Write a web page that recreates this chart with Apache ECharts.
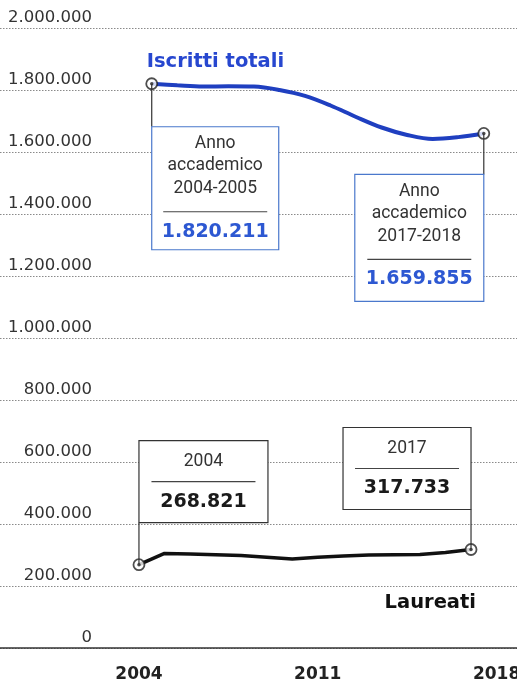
<!DOCTYPE html>
<html><head><meta charset="utf-8">
<script src="https://cdn.jsdelivr.net/npm/echarts@6/dist/echarts.min.js"></script>
<style>html,body{margin:0;padding:0;background:#fff}#c{width:517px;height:683px}</style>
</head><body><div id="c"></div>
<script>
// ---- data ----
const laureatiYears = [2004,2005,2006,2007,2008,2009,2010,2011,2012,2013,2014,2015,2016,2017];
const laureati = [268821,305000,303000,301000,298000,293000,287000,293000,297000,300000,301000,302000,308000,317733];
const iscrittiYears = ['2004-2005','2005-2006','2006-2007','2007-2008','2008-2009','2009-2010','2010-2011','2011-2012','2012-2013','2013-2014','2014-2015','2015-2016','2016-2017','2017-2018'];
const iscritti = [1820211,1815000,1811000,1812000,1811000,1800000,1781000,1750000,1713000,1679000,1655000,1642000,1648000,1659855];
const xTickYears = [2004, 2011, 2018];
const seriesNames = ['Iscritti totali', 'Laureati'];

// academic year plotted at its mid point (start year + 0.5)
const iscrittiX = iscrittiYears.map(s => parseInt(s.split('-')[0], 10) + 0.5);
const iscrittiData = iscritti.map((v, i) => [iscrittiX[i], v]);
const laureatiData = laureati.map((v, i) => [laureatiYears[i], v]);
const fmt = v => String(Math.round(v)).replace(/\B(?=(\d{3})+(?!\d))/g, '.');

const BLUE = '#1f3fc0';
const DARK = '#222';
const chart = echarts.init(document.getElementById('c'), null, {renderer: 'canvas'});

const ends = a => [a[0], a[a.length - 1]];

chart.setOption({
  animation: false,
  backgroundColor: '#fff',
  grid: {left: 0, right: 0, top: 28, bottom: 35, containLabel: false, outerBoundsMode: 'none'},
  xAxis: {
    type: 'value', min: 1998.56, max: 2018.8,
    axisLine: {show: true, lineStyle: {color: '#333', width: 1.5}},
    axisTick: {show: false},
    splitLine: {show: false},
    axisLabel: {
      customValues: xTickYears,
      margin: 18,
      formatter: v => String(Math.round(v)),
      fontFamily: 'DejaVu Sans', fontWeight: 'bold', fontSize: 17, color: '#222'
    }
  },
  yAxis: {
    type: 'value', min: 0, max: 2000000, interval: 200000,
    axisLine: {show: false}, axisTick: {show: false},
    splitLine: {show: true, lineStyle: {color: '#8a8a8a', type: [1.5, 1.5], width: 1}},
    axisLabel: {
      inside: true, margin: 92, align: 'right', verticalAlign: 'bottom',
      padding: [0, 0, 2, 0],
      formatter: fmt,
      fontFamily: 'DejaVu Sans', fontSize: 16.5, color: '#333'
    }
  },
  series: [
    {name: seriesNames[0], type: 'line', data: iscrittiData, smooth: 0.35, showSymbol: false,
     lineStyle: {color: BLUE, width: 4}, z: 3},
    {name: seriesNames[1], type: 'line', data: laureatiData, smooth: false, showSymbol: false,
     lineStyle: {color: '#111', width: 3.5}, z: 3},
    {type: 'scatter', data: ends(iscrittiData).concat(ends(laureatiData)), symbol: 'circle', symbolSize: 11,
     itemStyle: {color: '#fff', borderColor: DARK, borderWidth: 1.8}, z: 5, silent: true},
    {type: 'scatter', data: ends(iscrittiData).concat(ends(laureatiData)), symbol: 'circle', symbolSize: 3.5,
     itemStyle: {color: DARK}, z: 6, silent: true}
  ]
});

// ---- annotation boxes anchored to end points ----
const px = d => chart.convertToPixel({gridIndex: 0}, d);
const A = px(iscrittiData[0]);
const B = px(iscrittiData[iscrittiData.length - 1]);
const C = px(laureatiData[0]);
const D = px(laureatiData[laureatiData.length - 1]);

const g = [];
const line = (x1, y1, x2, y2, color, w, z) => g.push({type: 'line', z: z || 10,
  shape: {x1, y1, x2, y2}, style: {stroke: color, lineWidth: w || 1}});
const rect = (x, y, w, h, stroke) => g.push({type: 'rect', z: 11,
  shape: {x, y, width: w, height: h}, style: {fill: '#fff', stroke, lineWidth: 1.2}});
const text = (x, y, t, font, fill, align) => g.push({type: 'text', z: 12, x, y,
  style: {text: t, font, fill, textAlign: align || 'center', textVerticalAlign: 'middle'}});

const regular = '17.5px Roboto';
const big = 'bold 19px "DejaVu Sans"';
const BOXBLUE = '#4a78cc';

function iscrittiBox(x, y, w, h, yearLabel, value) {
  rect(x, y, w, h, BOXBLUE);
  const cx = x + w / 2;
  text(cx, y + 17, 'Anno', regular, '#333');
  text(cx, y + 39, 'accademico', regular, '#333');
  text(cx, y + 62, yearLabel, regular, '#333');
  line(cx - 52, y + 85, cx + 52, y + 85, '#444', 1.2, 12);
  text(cx, y + 105, fmt(value), big, '#2d58d2');
}
function laureatiBox(x, y, w, h, yearLabel, value) {
  rect(x, y, w, h, '#333');
  const cx = x + w / 2;
  text(cx, y + 21, yearLabel, regular, '#333');
  line(cx - 52, y + 41, cx + 52, y + 41, '#444', 1.2, 12);
  text(cx, y + 61, fmt(value), big, '#1a1a1a');
}

// Iscritti start
line(A[0], A[1], A[0], A[1] + 43, '#333', 1.2);
iscrittiBox(A[0], A[1] + 43, 127, 123, iscrittiYears[0], iscritti[0]);
// Iscritti end
line(B[0], B[1], B[0], B[1] + 41, '#333', 1.2);
iscrittiBox(B[0] - 129, B[1] + 41, 129, 127, iscrittiYears[iscrittiYears.length - 1], iscritti[iscritti.length - 1]);
// Laureati start
line(C[0], C[1], C[0], C[1] - 42, '#333', 1.2);
laureatiBox(C[0], C[1] - 42 - 82, 129, 82, String(laureatiYears[0]), laureati[0]);
// Laureati end
line(D[0], D[1], D[0], D[1] - 40, '#333', 1.2);
laureatiBox(D[0] - 128, D[1] - 40 - 82, 128, 82, String(laureatiYears[laureatiYears.length - 1]), laureati[laureati.length - 1]);

// series titles
text(A[0] - 5, A[1] - 22, seriesNames[0], 'bold 19.5px "DejaVu Sans"', '#2747cf', 'left');
text(D[0] + 5, D[1] + 53, seriesNames[1], 'bold 19.5px "DejaVu Sans"', '#111', 'right');

chart.setOption({graphic: {elements: g}});
</script>
</body></html>
